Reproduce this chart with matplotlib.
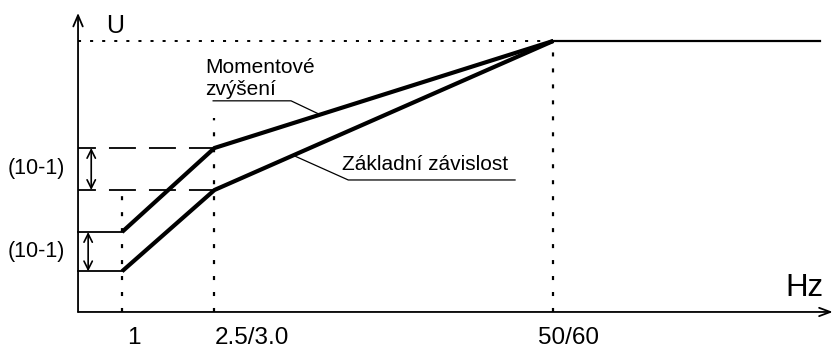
import numpy as np
import matplotlib.pyplot as plt
from matplotlib.patches import FancyArrowPatch

plt.rcParams['font.family'] = ['Liberation Sans', 'DejaVu Sans']
plt.rcParams['lines.scale_dashes'] = False

# schematic frequency positions of the break points and their labels
f_pos = [1.0, 3.1, 10.8]
f_labels = ['1', '2.5/3.0', '50/60']
f_end = 16.86

# voltage in % of nominal at the break points
u_base = [15, 45, 100]      # zakladni zavislost
u_boost = [29.5, 60.5, 100]  # momentove zvyseni
u_nom = 100

fig = plt.figure(figsize=(8.35, 3.51), dpi=100)
ax = fig.add_axes([0, 0, 1, 1])
ax.set_xlim(-1.773, 17.2)
ax.set_ylim(-14.4, 115.1)
ax.axis('off')

# axes with arrow heads
def arrow(p0, p1, style, lw, scale):
    ax.add_patch(FancyArrowPatch(p0, p1, arrowstyle=style, lw=lw, color='black',
                                 mutation_scale=scale, shrinkA=0, shrinkB=0))

arrow((0, 0), (0, 110.3), '->,head_length=0.4,head_width=0.17', 1.3, 20)
arrow((0, 0), (17.15, 0), '->,head_length=0.4,head_width=0.15', 1.3, 20)

# characteristics
ax.plot(f_pos, u_boost, color='black', lw=3.0, solid_capstyle='butt', solid_joinstyle='miter')
ax.plot(f_pos, u_base, color='black', lw=3.0, solid_capstyle='butt', solid_joinstyle='miter')
ax.plot([f_pos[2], f_end], [u_nom, u_nom], color='black', lw=1.6)

# starting levels up to the first break
ax.plot([0, f_pos[0]], [u_boost[0], u_boost[0]], color='black', lw=1.3)
ax.plot([0, f_pos[0]], [u_base[0], u_base[0]], color='black', lw=1.3)

# dashed levels at the second break
for u in (u_boost[1], u_base[1]):
    ax.plot([0, f_pos[1]], [u, u], color='black', lw=1.3, linestyle=(6.5, (19.4, 9.4)))

# dotted helper lines
ax.plot([0, f_pos[2]], [u_nom, u_nom], color='black', lw=1.4, linestyle=(0, (2.2, 6.5)))
ax.plot([f_pos[0], f_pos[0]], [0, u_base[1]], color='black', lw=1.6, linestyle=(0, (2.9, 8.6)))
ax.plot([f_pos[1], f_pos[1]], [0, 71.6], color='black', lw=1.6, linestyle=(0, (2.9, 8.6)))
ax.plot([f_pos[2], f_pos[2]], [0, u_nom], color='black', lw=1.6, linestyle=(0, (2.9, 8.6)))

# boost size markers
arrow((0.3, u_base[1]), (0.3, u_boost[1]), '<->,head_length=0.4,head_width=0.2', 1.2, 15)
arrow((0.23, u_base[0]), (0.23, u_boost[0]), '<->,head_length=0.4,head_width=0.2', 1.2, 15)
ax.text(-0.95, (u_base[1] + u_boost[1]) / 2, '(10-1)', fontsize=15.5, ha='center', va='center')
ax.text(-0.95, (u_base[0] + u_boost[0]) / 2, '(10-1)', fontsize=15.5, ha='center', va='center')

# leader lines to the curve labels
x1 = 5.5
ax.plot([3.07, 4.84, x1], [77.9, 77.9, np.interp(x1, f_pos, u_boost)], color='black', lw=0.9)
x2 = 4.89
ax.plot([x2, 6.14, 9.93], [np.interp(x2, f_pos, u_base), 48.7, 48.7], color='black', lw=0.9)

ax.text(2.89, 88.2, 'Momentové', fontsize=15, va='baseline')
ax.text(2.89, 80.1, 'zvýšení', fontsize=15, va='baseline')
ax.text(6.0, 52.4, 'Základní závislost', fontsize=15, va='baseline')

# axis titles
ax.text(0.64, 103, 'U', fontsize=18, va='baseline')
ax.text(16.07, 5.9, 'Hz', fontsize=22.5, va='baseline')

# frequency labels
label_x = [1.11, 3.11, 10.45]
for x, lab in zip(label_x, f_labels):
    ax.text(x, -12.0, lab, fontsize=17.5, va='baseline')

fig.savefig('out.png', dpi=100)
